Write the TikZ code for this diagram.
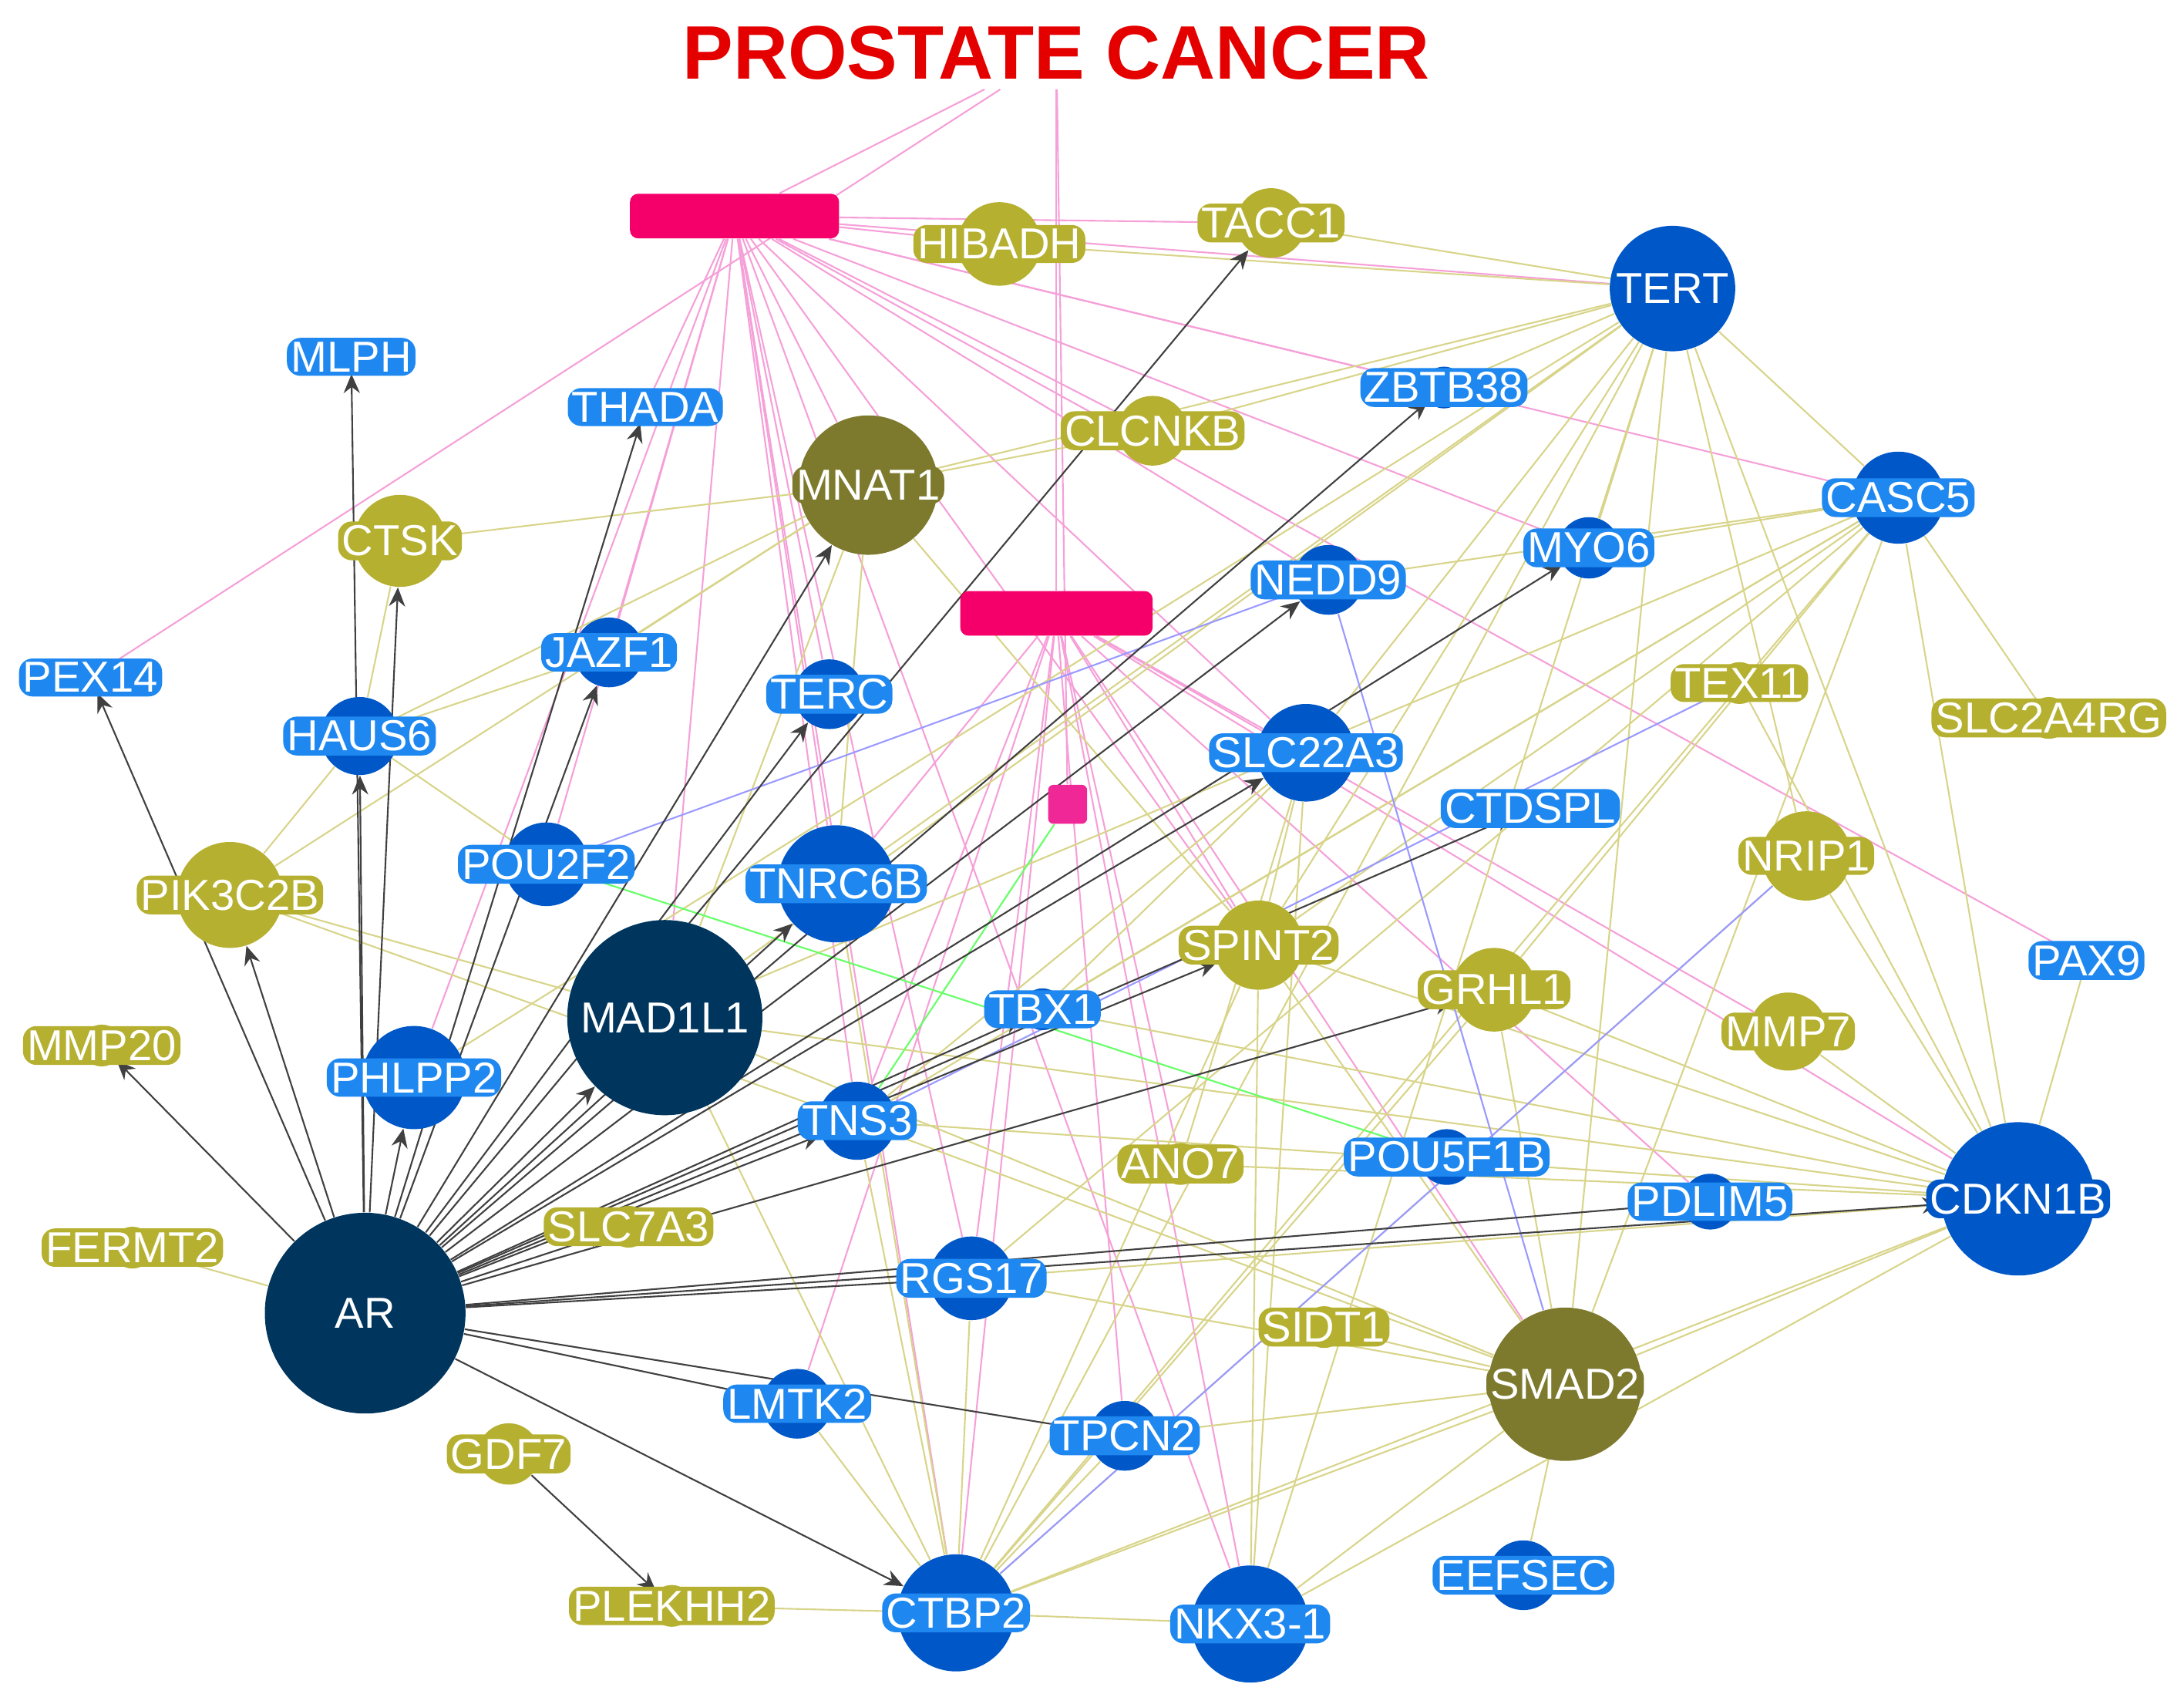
\documentclass[tikz,border=0pt]{standalone}
\usepackage{fontspec}
\setmainfont{Liberation Sans}
\usetikzlibrary{arrows.meta,backgrounds}
\definecolor{navy}{HTML}{00365E}
\definecolor{bl}{HTML}{0058C8}
\definecolor{lbl}{HTML}{1E88F0}
\definecolor{dol}{HTML}{7D7A2E}
\definecolor{lol}{HTML}{B5B030}
\definecolor{pk}{HTML}{F5006A}
\definecolor{edo}{HTML}{D8D48A}
\definecolor{edp}{HTML}{F5A0D8}
\tikzset{
 circ/.style={circle,inner sep=0pt,draw=none},
 lab/.style={font=\fontsize{16}{18}\selectfont,text=white,rounded corners=5pt,inner sep=1.5pt},
 ar/.style={draw=black!75,line width=0.6pt,-{Stealth[length=7pt,width=6pt]}},
 eo/.style={draw=edo,line width=0.6pt},
 ep/.style={draw=edp,line width=0.6pt},
 eb/.style={draw=blue!40,line width=0.6pt},
 eg/.style={draw=green!60,line width=0.6pt},
}
\newcommand{\gn}[7]{%
 \node[circ,fill=#5,minimum size=#4*2*0.01808cm] (#1) at (#2,#3) {};
 \node[lab,fill=#7] (#1-t) at (#2,#3) {#6};}
\begin{document}
\begin{tikzpicture}[x=0.01808cm,y=-0.01808cm]
\useasboundingbox (0,0) rectangle (1567,1215);
\node[font=\bfseries\fontsize{28}{30}\selectfont,text=red!90!black] (title) at (758,38) {PROSTATE CANCER};
\node[fill=pk,rounded corners=3pt,minimum width=150*0.01808cm,minimum height=32*0.01808cm,inner sep=0] (R1) at (527,155) {};
\node[fill=pk,rounded corners=3pt,minimum width=138*0.01808cm,minimum height=32*0.01808cm,inner sep=0] (R2) at (758,440) {};
\node[fill=magenta!80!pink,rounded corners=2pt,minimum size=28*0.01808cm,inner sep=0] (R3) at (766,577) {};
\gn{AR}{262}{942}{72}{navy}{AR}{navy}
\gn{MAD}{477}{730}{70}{navy}{MAD1L1}{navy}
\gn{MNAT1}{623}{348}{50}{dol}{MNAT1}{dol}
\gn{SMAD2}{1123}{993}{55}{dol}{SMAD2}{dol}
\gn{CDKN1B}{1448}{860}{55}{bl}{CDKN1B}{bl}
\gn{TERT}{1200}{207}{45}{bl}{TERT}{bl}
\gn{CASC5}{1362}{357}{33}{bl}{CASC5}{lbl}
\gn{SLC22A3}{937}{540}{35}{bl}{SLC22A3}{lbl}
\gn{TNRC6B}{600}{634}{42}{bl}{TNRC6B}{lbl}
\gn{PHLPP2}{297}{773}{37}{bl}{PHLPP2}{lbl}
\gn{CTBP2}{686}{1157}{42}{bl}{CTBP2}{lbl}
\gn{NKX}{897}{1165}{42}{bl}{NKX3-1}{lbl}
\gn{RGS17}{697}{917}{30}{bl}{RGS17}{lbl}
\gn{TNS3}{615}{804}{28}{bl}{TNS3}{lbl}
\gn{POU2F2}{392}{620}{30}{bl}{POU2F2}{lbl}
\gn{HAUS6}{258}{528}{28}{bl}{HAUS6}{lbl}
\gn{JAZF1}{437}{468}{25}{bl}{JAZF1}{lbl}
\gn{TERC}{595}{498}{25}{bl}{TERC}{lbl}
\gn{NEDD9}{953}{416}{25}{bl}{NEDD9}{lbl}
\gn{MYO6}{1140}{393}{22}{bl}{MYO6}{lbl}
\gn{LMTK2}{572}{1007}{25}{bl}{LMTK2}{lbl}
\gn{TPCN2}{807}{1030}{25}{bl}{TPCN2}{lbl}
\gn{EEFSEC}{1093}{1130}{25}{bl}{EEFSEC}{lbl}
\gn{PDLIM5}{1227}{862}{20}{bl}{PDLIM5}{lbl}
\gn{POU5F1B}{1038}{830}{20}{bl}{POU5F1B}{lbl}
\gn{TBX1}{748}{724}{15}{bl}{TBX1}{lbl}
\gn{CTDSPL}{1098}{580}{12}{bl}{CTDSPL}{lbl}
\gn{ZBTB38}{1036}{278}{15}{bl}{ZBTB38}{lbl}
\gn{THADA}{463}{292}{12}{bl}{THADA}{lbl}
\gn{MLPH}{252}{256}{12}{bl}{MLPH}{lbl}
\gn{PEX14}{65}{486}{12}{bl}{PEX14}{lbl}
\gn{PAX9}{1497}{689}{12}{bl}{PAX9}{lbl}
\gn{HIBADH}{717}{175}{30}{lol}{HIBADH}{lol}
\gn{TACC1}{912}{160}{25}{lol}{TACC1}{lol}
\gn{CLCNKB}{827}{309}{25}{lol}{CLCNKB}{lol}
\gn{CTSK}{287}{388}{33}{lol}{CTSK}{lol}
\gn{PIK3C2B}{165}{642}{38}{lol}{PIK3C2B}{lol}
\gn{MMP20}{73}{750}{15}{lol}{MMP20}{lol}
\gn{FERMT2}{95}{895}{15}{lol}{FERMT2}{lol}
\gn{SLC7A3}{451}{880}{15}{lol}{SLC7A3}{lol}
\gn{GDF7}{365}{1043}{22}{lol}{GDF7}{lol}
\gn{PLEKHH2}{482}{1152}{15}{lol}{PLEKHH2}{lol}
\gn{ANO7}{847}{835}{15}{lol}{ANO7}{lol}
\gn{SIDT1}{950}{952}{15}{lol}{SIDT1}{lol}
\gn{SPINT2}{903}{678}{32}{lol}{SPINT2}{lol}
\gn{GRHL1}{1072}{710}{30}{lol}{GRHL1}{lol}
\gn{NRIP1}{1296}{614}{32}{lol}{NRIP1}{lol}
\gn{MMP7}{1283}{740}{28}{lol}{MMP7}{lol}
\gn{TEX11}{1248}{490}{15}{lol}{TEX11}{lol}
\gn{SLC2A4RG}{1470}{515}{15}{lol}{SLC2A4RG}{lol}
\begin{scope}[on background layer]
\draw[ep] (title) -- (R2); \draw[ep] (title) -- (R1); \draw[ep] (title) -- (R3);
\draw[ep] (title) -- (PEX14);
\foreach \t in {THADA,MNAT1,TERC,JAZF1,TNRC6B,PHLPP2,POU2F2,SLC22A3,NEDD9,ZBTB38,TERT,CASC5,HIBADH,TACC1,NKX,CTBP2,MAD,SPINT2,PAX9,CLCNKB,MYO6,TNS3,RGS17}
  \draw[ep] (R1) -- (\t);
\foreach \t in {TNRC6B,LMTK2,CTBP2,NKX,SMAD2,SLC22A3,CDKN1B,RGS17,TNS3,TPCN2,ANO7,MMP7,PDLIM5,SPINT2}
  \draw[ep] (R2) -- (\t);
\foreach \t in {ZBTB38,CASC5,MNAT1,SLC22A3,SPINT2,MAD,CTBP2,NKX,SMAD2,CDKN1B,MYO6,HIBADH,CLCNKB,NRIP1,TNRC6B,PHLPP2,TACC1}
  \draw[eo] (TERT) -- (\t);
\foreach \t in {MAD,SPINT2,GRHL1,CTBP2,SMAD2,CDKN1B,NEDD9,TBX1,SLC2A4RG,TNS3,RGS17,MYO6}
  \draw[eo] (CASC5) -- (\t);
\foreach \t in {RGS17,SPINT2,GRHL1,CTBP2,NKX,SMAD2,MMP7,TNS3,TEX11,MAD,NRIP1,TBX1,PAX9,ANO7}
  \draw[eo] (CDKN1B) -- (\t);
\foreach \t in {CTBP2,NKX,TPCN2,GRHL1,SPINT2,MAD,EEFSEC,RGS17,TNS3,SIDT1}
  \draw[eo] (SMAD2) -- (\t);
\foreach \t in {SPINT2,RGS17,NKX,MAD,TNS3,GRHL1,NRIP1,LMTK2,PLEKHH2,TNRC6B,TPCN2}
  \draw[eo] (CTBP2) -- (\t);
\foreach \t in {CTSK,HAUS6,PIK3C2B,MAD,TNRC6B,SPINT2,JAZF1,CLCNKB}
  \draw[eo] (MNAT1) -- (\t);
\foreach \t in {CTSK,PIK3C2B,JAZF1,POU2F2}
  \draw[eo] (HAUS6) -- (\t);
\foreach \t in {SPINT2,TBX1,NKX,TNS3,ANO7}
  \draw[eo] (SLC22A3) -- (\t);
\draw[eo] (PIK3C2B) -- (MAD); \draw[eo] (PIK3C2B) -- (TNS3);
\draw[eo] (FERMT2) -- (AR); \draw[eo] (NKX) -- (SPINT2);
\draw[eb] (NEDD9) -- (SMAD2); \draw[eb] (CTBP2) -- (NRIP1);
\draw[eb] (TEX11) -- (TNS3); \draw[eb] (POU2F2) -- (NEDD9);
\draw[eg] (R3) -- (TNS3); \draw[eg] (POU2F2) -- (POU5F1B);
\foreach \t in {PEX14,MMP20,PIK3C2B,HAUS6,CTSK,MLPH,THADA,JAZF1,MNAT1,TERC,TNRC6B,TACC1,ZBTB38,NEDD9,MYO6,SLC22A3,CTDSPL,GRHL1,SPINT2,TBX1,TNS3,RGS17,PDLIM5,CDKN1B,LMTK2,TPCN2,CTBP2,MAD,PHLPP2,SLC7A3}
  \draw[ar] (AR) -- (\t);
\draw[ar] (GDF7) -- (PLEKHH2);
\end{scope}
\end{tikzpicture}
\end{document}
